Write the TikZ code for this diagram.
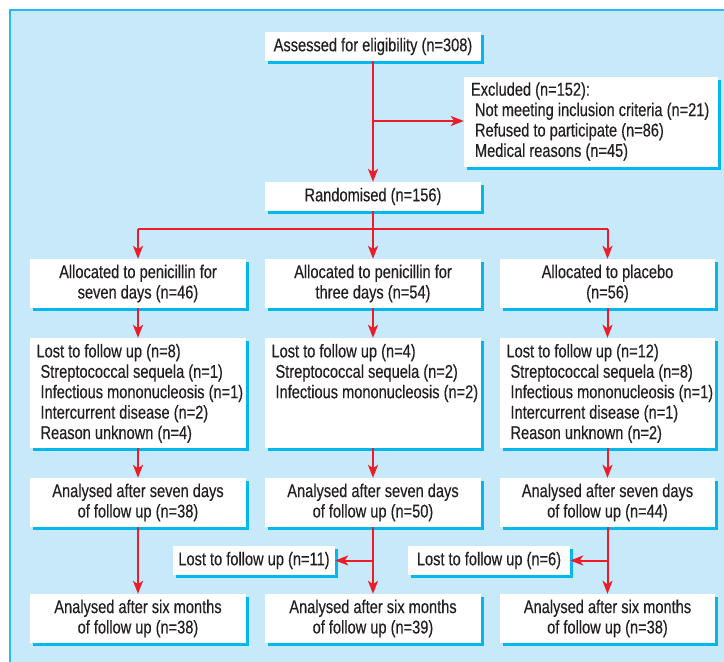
\documentclass[tikz,border=0pt]{standalone}
\usepackage{fontspec}
\setmainfont{Liberation Sans}[FakeStretch=0.79,FakeBold=0.35]
\usetikzlibrary{arrows.meta,shadows,calc}
\definecolor{bgblue}{HTML}{C8E9F9}
\definecolor{framecyan}{HTML}{2BB8EC}
\definecolor{shcyan}{HTML}{00B8EE}
\definecolor{arrred}{HTML}{EC1C2A}
\definecolor{txtc}{HTML}{231F20}
\newcommand{\ind}{\hspace*{4pt}}
\begin{document}
\begin{tikzpicture}[x=1pt,y=-1pt,
  box/.style={fill=white, drop shadow={shadow xshift=3pt, shadow yshift=-3pt, fill=shcyan, opacity=1},
    inner sep=0pt, font=\fontsize{18.5}{20.4}\selectfont, text=txtc, align=center},
  wh/.style 2 args={minimum width=#1pt, minimum height=#2pt},
  txtl/.style={inner sep=0pt, font=\fontsize{18.5}{20.4}\selectfont, text=txtc, align=left},
  ln/.style={draw=arrred, line width=2pt},
  arr/.style={draw=arrred, line width=2pt, -{Stealth[length=13pt,width=10pt,inset=3.5pt]}}]
\useasboundingbox (0,0) rectangle (724,662);
\fill[bgblue] (10,10) rectangle (726,664);
\draw[framecyan, line width=1.5pt] (10,664) -- (10,10) -- (726,10);

% nodes
\node[box, wh={216}{29}] (assess) at (373,46.5) {Assessed for eligibility (n=308)};
\node[box, wh={254}{90}] (excl) at (591,122) {};
\node[txtl, anchor=west] (exclt) at ($(excl.west)+(7,-0.5)$) {Excluded (n=152):\\
\ind Not meeting inclusion criteria (n=21)\\
\ind Refused to participate (n=86)\\
\ind Medical reasons (n=45)};
\node[box, wh={216}{29}] (rand) at (373,196.5) {Randomised (n=156)};

\node[box, wh={216}{49}] (allocA) at (138,283.5) {Allocated to penicillin for\\seven days (n=46)};
\node[box, wh={216}{49}] (allocB) at (373,283.5) {Allocated to penicillin for\\three days (n=54)};
\node[box, wh={215}{49}] (allocC) at (607.5,283.5) {Allocated to placebo\\(n=56)};

\node[box, wh={216}{110}] (lostA) at (138,393) {};
\node[box, wh={216}{110}] (lostB) at (373,393) {};
\node[box, wh={215}{110}] (lostC) at (607.5,393) {};
\node[txtl, anchor=north west] (lostAt) at ($(lostA.north west)+(6.5,6)$) {Lost to follow up (n=8)\\
\ind Streptococcal sequela (n=1)\\
\ind Infectious mononucleosis (n=1)\\
\ind Intercurrent disease (n=2)\\
\ind Reason unknown (n=4)};
\node[txtl, anchor=north west] (lostBt) at ($(lostB.north west)+(6.5,6)$) {Lost to follow up (n=4)\\
\ind Streptococcal sequela (n=2)\\
\ind Infectious mononucleosis (n=2)};
\node[txtl, anchor=north west] (lostCt) at ($(lostC.north west)+(6.5,6)$) {Lost to follow up (n=12)\\
\ind Streptococcal sequela (n=8)\\
\ind Infectious mononucleosis (n=1)\\
\ind Intercurrent disease (n=1)\\
\ind Reason unknown (n=2)};

\node[box, wh={216}{49}] (anA) at (138,502.5) {Analysed after seven days\\of follow up (n=38)};
\node[box, wh={216}{49}] (anB) at (373,502.5) {Analysed after seven days\\of follow up (n=50)};
\node[box, wh={215}{49}] (anC) at (607.5,502.5) {Analysed after seven days\\of follow up (n=44)};

\node[box, wh={162}{29}] (lost11) at (254,560.5) {Lost to follow up (n=11)};
\node[box, wh={162}{29}] (lost6) at (489,560.5) {Lost to follow up (n=6)};

\node[box, wh={216}{49}] (sixA) at (138,618.5) {Analysed after six months\\of follow up (n=38)};
\node[box, wh={216}{49}] (sixB) at (373,618.5) {Analysed after six months\\of follow up (n=39)};
\node[box, wh={215}{49}] (sixC) at (607.5,618.5) {Analysed after six months\\of follow up (n=38)};

% junctions
\coordinate (jEx) at (373,121);
\coordinate (jTop) at (373,229);
\coordinate (jA) at (138,229);
\coordinate (jC) at (607.5,229);
\coordinate (jB2) at (373,560.5);
\coordinate (jC2) at (607.5,560.5);

% connectors
\draw[arr] (assess) -- (rand);
\draw[arr] (jEx) -- (jEx -| excl.west);
\draw[ln] (rand) -- (jTop);
\draw[ln] (jA) -- (jC);
\draw[arr] (jA) -- (allocA);
\draw[arr] (jTop) -- (allocB);
\draw[arr] (jC) -- (allocC);
\draw[arr] (allocA) -- (lostA);
\draw[arr] (allocB) -- (lostB);
\draw[arr] (allocC) -- (lostC);
\draw[arr] (lostA) -- (anA);
\draw[arr] (lostB) -- (anB);
\draw[arr] (lostC) -- (anC);
\draw[arr] (anA) -- (sixA);
\draw[arr] (anB) -- (sixB);
\draw[arr] (anC) -- (sixC);
\draw[arr] (jB2) -- (lost11);
\draw[arr] (jC2) -- (lost6);
\end{tikzpicture}
\end{document}
